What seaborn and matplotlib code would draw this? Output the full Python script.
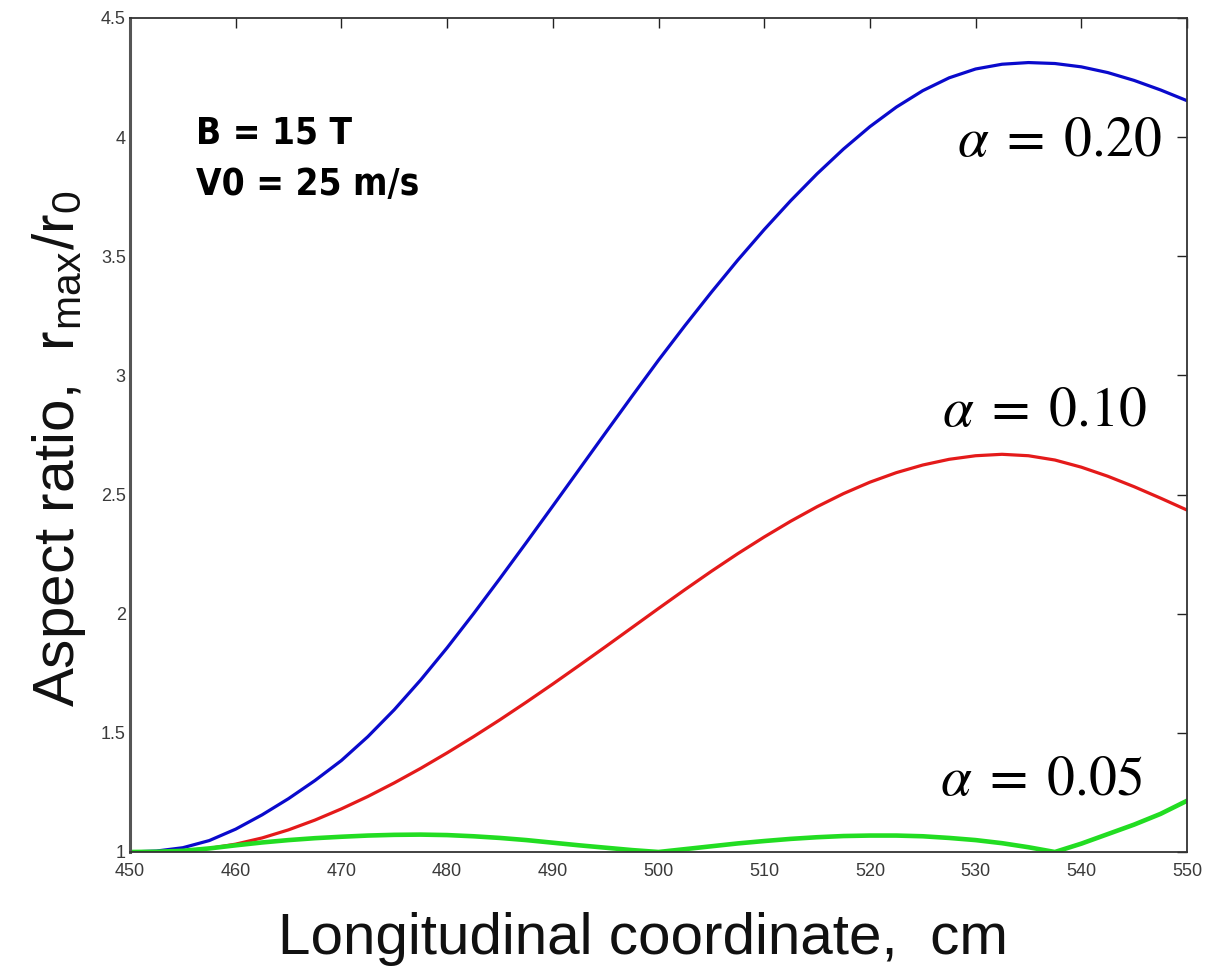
import numpy as np
import pandas as pd
import matplotlib
matplotlib.use("Agg")
import matplotlib.pyplot as plt
import seaborn as sns

# ---- data ----
x_cm = [450, 452.5, 455, 457.5, 460, 462.5, 465, 467.5, 470, 472.5, 475, 477.5,
        480, 482.5, 485, 487.5, 490, 492.5, 495, 497.5, 500, 502.5, 505, 507.5,
        510, 512.5, 515, 517.5, 520, 522.5, 525, 527.5, 530, 532.5, 535, 537.5,
        540, 542.5, 545, 547.5, 550]

ratio_a020 = [1.000, 1.004, 1.018, 1.048, 1.096, 1.156, 1.224, 1.300, 1.384, 1.484,
              1.597, 1.722, 1.857, 2.000, 2.148, 2.299, 2.452, 2.606, 2.760, 2.913,
              3.064, 3.209, 3.349, 3.484, 3.612, 3.733, 3.846, 3.950, 4.044, 4.126,
              4.195, 4.249, 4.286, 4.306, 4.313, 4.309, 4.295, 4.271, 4.238, 4.198,
              4.153]

ratio_a010 = [1.000, 1.001, 1.005, 1.015, 1.033, 1.059, 1.093, 1.134, 1.181, 1.233,
              1.290, 1.351, 1.416, 1.484, 1.555, 1.629, 1.705, 1.783, 1.862, 1.942,
              2.022, 2.101, 2.178, 2.252, 2.322, 2.388, 2.449, 2.504, 2.552, 2.592,
              2.624, 2.648, 2.663, 2.669, 2.663, 2.645, 2.615, 2.577, 2.533, 2.485,
              2.435]

ratio_a005 = [1.000, 1.001, 1.005, 1.015, 1.028, 1.040, 1.050, 1.058, 1.064, 1.069,
              1.072, 1.073, 1.071, 1.066, 1.059, 1.050, 1.039, 1.028, 1.018, 1.008,
              1.000, 1.012, 1.024, 1.036, 1.046, 1.055, 1.062, 1.067, 1.069, 1.069,
              1.066, 1.059, 1.050, 1.037, 1.020, 1.000, 1.035, 1.075, 1.115, 1.160,
              1.215]

series_names = ["0.20", "0.10", "0.05"]
series_colors = ["#0a0acc", "#e41a1a", "#22dd22"]
series_widths = [2.3, 2.3, 3.3]

x_ticks = [450, 460, 470, 480, 490, 500, 510, 520, 530, 540, 550]
y_ticks = [1, 1.5, 2, 2.5, 3, 3.5, 4, 4.5]
y_tick_labels = ["1", "1.5", "2", "2.5", "3", "3.5", "4", "4.5"]

# ---- build long-form table ----
frames = []
for name, vals in zip(series_names, [ratio_a020, ratio_a010, ratio_a005]):
    frames.append(pd.DataFrame({"x": x_cm, "y": vals, "alpha": name}))
df = pd.concat(frames, ignore_index=True)

sns.set_theme(style="white")
plt.rcParams["font.family"] = ["Liberation Sans", "DejaVu Sans"]
plt.rcParams["mathtext.fontset"] = "stix"

fig = plt.figure(figsize=(12.08, 9.66), dpi=100)
ax = fig.add_axes([130 / 1208, 1 - 852 / 966, (1187 - 130) / 1208, (852 - 18) / 966])

for name, col, lw in zip(series_names, series_colors, series_widths):
    sns.lineplot(data=df[df["alpha"] == name], x="x", y="y", color=col,
                 linewidth=lw, ax=ax, legend=False, sort=True,
                 solid_joinstyle="round", solid_capstyle="round")

ax.set_xlim(450, 550)
ax.set_ylim(1, 4.5)
ax.set_xticks(x_ticks)
ax.set_xticklabels([str(t) for t in x_ticks])
ax.set_yticks(y_ticks)
ax.set_yticklabels(y_tick_labels)

ax.tick_params(axis="both", which="both", direction="in", length=7, width=1,
               top=True, right=True, labelsize=13, colors="#222222",
               labelcolor="#3a3a3a")
ax.tick_params(axis="x", pad=8)
ax.tick_params(axis="y", pad=3)
for s in ax.spines.values():
    s.set_visible(True)
    s.set_color("#333333")
    s.set_linewidth(1.3)
ax.spines["left"].set_linewidth(2.2)
ax.spines["left"].set_color("#555555")

ax.set_xlabel("Longitudinal coordinate,  cm", fontsize=42, color="#111111")
ax.set_ylabel(r"Aspect ratio,  r$_{\mathregular{max}}$/r$_{\mathregular{0}}$",
              fontsize=42, color="#111111")
ax.xaxis.set_label_coords(0.485, -0.072)
ax.yaxis.set_label_coords(-0.040, 0.484)

# annotations
ax.text(0.062, 0.884, "B = 15 T\nV0 = 25 m/s", transform=ax.transAxes,
        fontsize=26.5, fontweight="bold", fontstretch="condensed", linespacing=1.5,
        family=["DejaVu Sans"], va="top", ha="left", color="black")

labels = [r"$\alpha \;=\; 0.20$", r"$\alpha \;=\; 0.10$", r"$\alpha \;=\; 0.05$"]
label_pos = [(547.6, 3.92), (546.2, 2.786), (545.8, 1.24)]
for t, (lx, ly) in zip(labels, label_pos):
    ax.text(lx, ly, t, fontsize=40, ha="right", va="baseline", color="black")

fig.savefig("out.png", dpi=100, facecolor="white")
